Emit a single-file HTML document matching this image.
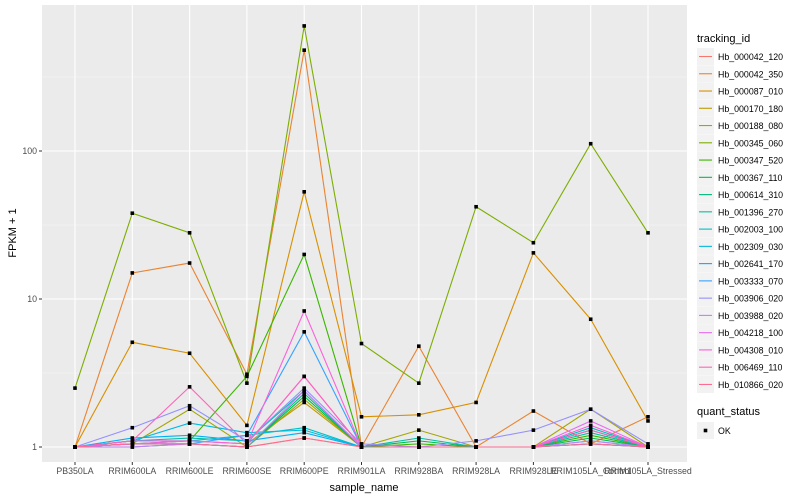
<!DOCTYPE html>
<html><head><meta charset="utf-8"><style>
body{margin:0;background:#fff;}
svg{display:block;font-family:"Liberation Sans",Arial,sans-serif;}
</style></head><body>
<svg id="chart" width="800" height="500"></svg>
<script>
const categories=["PB350LA","RRIM600LA","RRIM600LE","RRIM600SE","RRIM600PE","RRIM901LA","RRIM928BA","RRIM928LA","RRIM928LE","RRIM105LA_Control","RRIM105LA_Stressed"];
const seriesNames=["Hb_000042_120","Hb_000042_350","Hb_000087_010","Hb_000170_180","Hb_000188_080","Hb_000345_060","Hb_000347_520","Hb_000367_110","Hb_000614_310","Hb_001396_270","Hb_002003_100","Hb_002309_030","Hb_002641_170","Hb_003333_070","Hb_003906_020","Hb_003988_020","Hb_004218_100","Hb_004308_010","Hb_006469_110","Hb_010866_020"];
const colors=["#F8766D","#EA8331","#D89000","#C09B00","#A3A500","#7CAE00","#39B600","#00BB4E","#00BF7D","#00C1A3","#00BFC4","#00BAE0","#00B0F6","#35A2FF","#9590FF","#C77CFF","#E76BF3","#FA62DB","#FF62BC","#FF6C91"];
const s0=[1,1.05,1.05,1,1.15,1,1,1,1,1.05,1];
const s1=[1,15,17.5,3.1,480,1,4.8,1,1.75,1.05,1.6];
const s2=[1,5.1,4.3,1.4,53,1.6,1.65,2,20.5,7.3,1.5];
const s3=[1,1.05,1.1,1.05,2.0,1,1,1,1,1.3,1];
const s4=[1,1.05,1.8,1,2.1,1,1.3,1,1,1.8,1];
const s5=[2.5,38,28,2.7,700,5,2.7,42,24,112,28];
const s6=[1,1.1,1.1,3,20,1,1.05,1,1,1.2,1];
const s7=[1,1,1.05,1,2.2,1,1.1,1,1,1.15,1];
const s8=[1,1.05,1.05,1,2.3,1,1,1,1,1.05,1];
const s9=[1,1.1,1.15,1.1,2.4,1,1.15,1,1,1.25,1];
const s10=[1,1.05,1.1,1.2,1.35,1,1,1,1,1.35,1];
const s11=[1,1.1,1.45,1.25,1.3,1,1,1,1,1.1,1];
const s12=[1,1.15,1.2,1.1,1.25,1,1,1,1,1.3,1];
const s13=[1,1.05,1.05,1.2,6,1,1,1,1,1.05,1];
const s14=[1,1.35,1.9,1.1,2.5,1.05,1,1.1,1.3,1.8,1.05];
const s15=[1,1,1.05,1,2.4,1,1,1,1,1.1,1];
const s16=[1,1.1,1.1,1.05,3,1,1,1,1,1.5,1];
const s17=[1,1.05,1.1,1.05,8.3,1,1,1,1,1.4,1];
const s18=[1,1.1,2.55,1.05,3,1,1,1,1,1.3,1];
const s19=[1,1.05,1.05,1,1.15,1,1,1,1,1.05,1];
const series=[s0,s1,s2,s3,s4,s5,s6,s7,s8,s9,s10,s11,s12,s13,s14,s15,s16,s17,s18,s19];
const yTicks=[1,10,100];
const yTickLabels=["1","10","100"];

const NS="http://www.w3.org/2000/svg";
const svg=document.getElementById('chart');
const PL=42,PR=687,PT=5,PB=462;
function xs(i){return 75+i*(648-75)/(categories.length-1);}
function ys(v){return 447-148*Math.log10(v);}
function mk(tag,attrs,parent){const e=document.createElementNS(NS,tag);for(const k in attrs)e.setAttribute(k,attrs[k]);(parent||svg).appendChild(e);return e;}

const panel=mk('rect',{x:PL,y:PT,width:PR-PL,height:PB-PT,fill:'#EBEBEB'});


// minor grid
for(let d=-0.5;d<=3;d+=1){const y=447-148*d;if(y>PT&&y<PB)mk('line',{x1:PL,x2:PR,y1:y,y2:y,stroke:'#F5F5F5','stroke-width':0.6});}
yTicks.forEach((t,i)=>{const y=ys(t);
 mk('line',{x1:PL,x2:PR,y1:y,y2:y,stroke:'#fff','stroke-width':1.1});
 mk('line',{x1:PL-3,x2:PL,y1:y,y2:y,stroke:'#333','stroke-width':1});
 const tx=mk('text',{x:PL-5,y:y+3,'text-anchor':'end','font-size':8.8,fill:'#4D4D4D'});tx.textContent=yTickLabels[i];
 
 
});
categories.forEach((c,i)=>{const x=xs(i);
 mk('line',{x1:x,x2:x,y1:PT,y2:PB,stroke:'#fff','stroke-width':1.1});
 mk('line',{x1:x,x2:x,y1:PB,y2:PB+3,stroke:'#333','stroke-width':1});
 const tx=mk('text',{x:x,y:PB+12,'text-anchor':'middle','font-size':8.8,fill:'#4D4D4D'});tx.textContent=c;
 
 
});
series.forEach((s,k)=>{
 const p=mk('polyline',{points:s.map((v,i)=>xs(i)+','+ys(v)).join(' '),fill:'none',stroke:colors[k],'stroke-width':1.1});
 
 
});
series.forEach((s,k)=>{s.forEach((v,i)=>{
 const r=mk('rect',{x:xs(i)-1.8,y:ys(v)-1.8,width:3.6,height:3.6,fill:'#000'});
 
 
});});
let t=mk('text',{x:364,y:491,'text-anchor':'middle','font-size':11,fill:'#000'});t.textContent='sample_name';


t=mk('text',{x:16,y:233,'text-anchor':'middle','font-size':11,fill:'#000',transform:'rotate(-90 16 233)'});t.textContent='FPKM + 1';


// legend
t=mk('text',{x:697,y:42,'font-size':11,fill:'#000'});t.textContent='tracking_id';


seriesNames.forEach((n,k)=>{const y=48+k*17.26;
 const g=mk('g',{});
 
 
 mk('rect',{x:697,y:y,width:17,height:17,fill:'#F2F2F2'},g);
 mk('line',{x1:699,x2:712,y1:y+8.5,y2:y+8.5,stroke:colors[k],'stroke-width':1.1},g);
 const tx=mk('text',{x:718,y:y+12,'font-size':8.8,fill:'#000'},g);tx.textContent=n;
});
t=mk('text',{x:697,y:415,'font-size':11,fill:'#000'});t.textContent='quant_status';


const g2=mk('g',{});


mk('rect',{x:697,y:422,width:17,height:17,fill:'#F2F2F2'},g2);
mk('rect',{x:703.7,y:428.7,width:3.6,height:3.6,fill:'#000'},g2);
const ok=mk('text',{x:718,y:434,'font-size':8.8,fill:'#000'},g2);ok.textContent='OK';
</script>
</body></html>
